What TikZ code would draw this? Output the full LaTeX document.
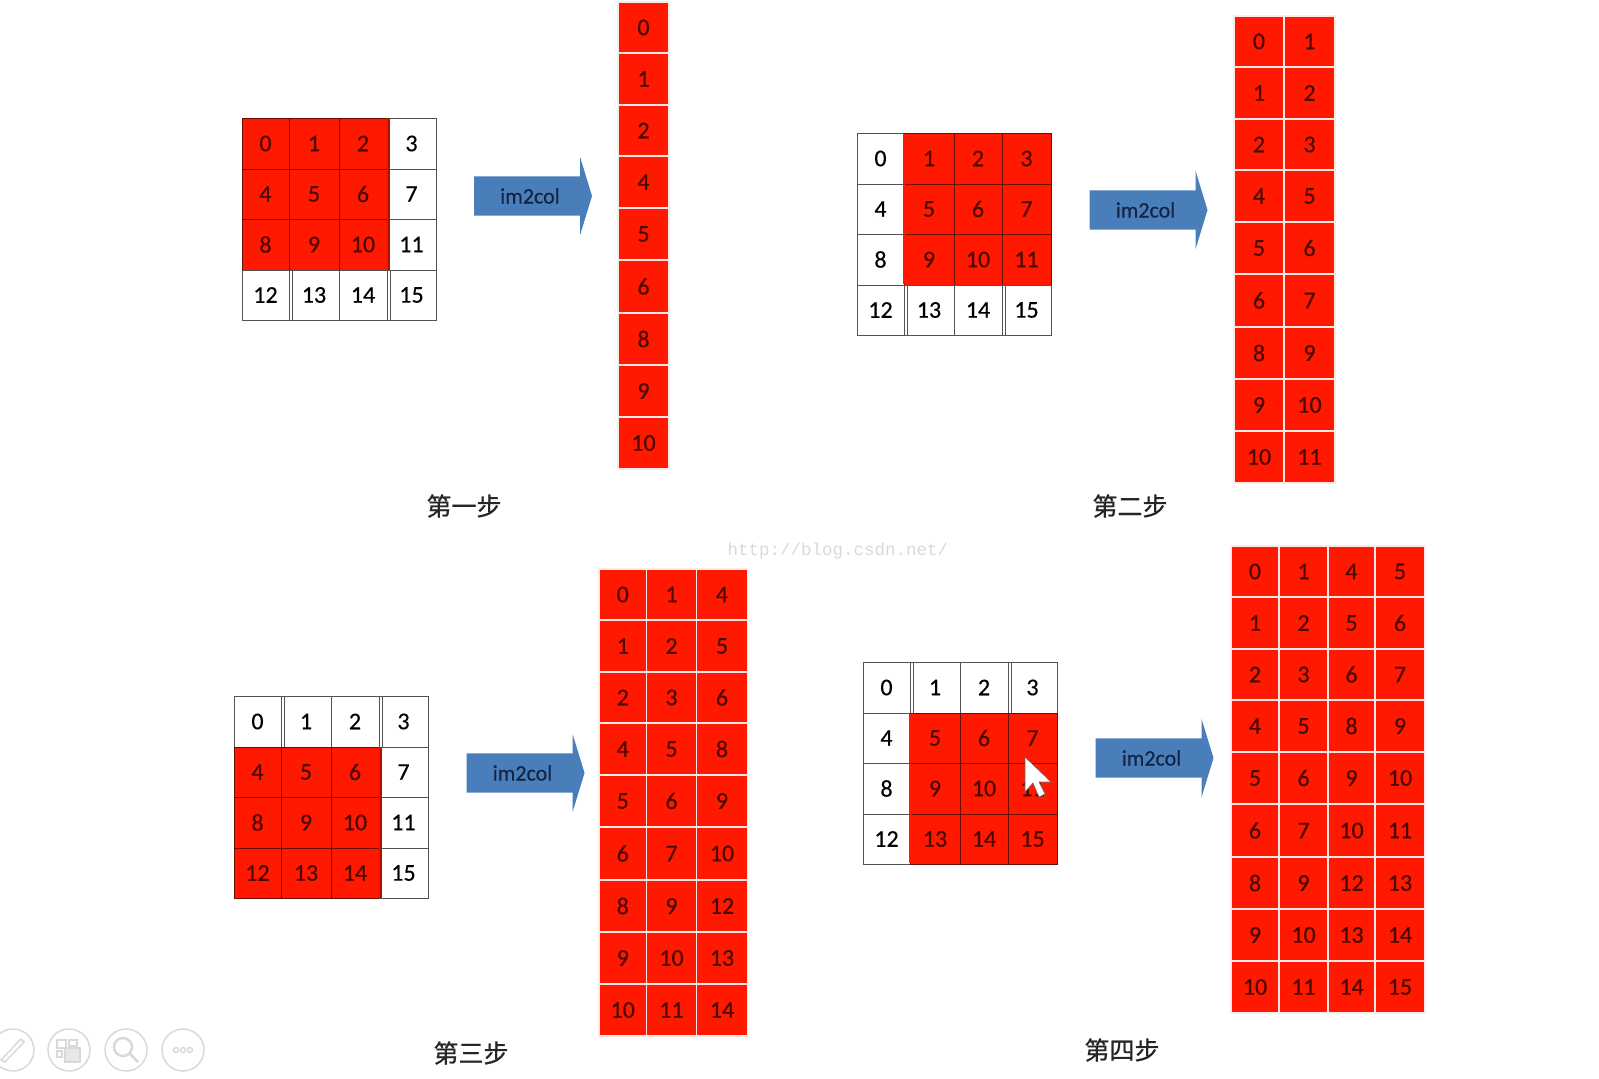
\documentclass[tikz,border=0pt]{standalone}
\usepackage{fontspec}
\setmainfont[FakeBold=0.4]{Carlito}
\newfontfamily\cjk[FakeBold=0.8]{Noto Sans CJK SC}
\newfontfamily\wmfont{Liberation Mono}
\usepackage{xcolor}
\usetikzlibrary{shapes.arrows}
\definecolor{cellred}{HTML}{FF1900}
\definecolor{celldark}{HTML}{6E0D00}
\definecolor{celltext}{HTML}{4A0800}
\definecolor{arrowblue}{HTML}{4A7EBB}
\definecolor{arrowtext}{HTML}{14233F}
\definecolor{icongray}{HTML}{D9D9D9}
\tikzset{
  whitecell/.style={draw=black!68,line width=1pt,inner sep=0pt,outer sep=0pt,text=black,font=\fontsize{24}{24}\selectfont},
  redcell/.style={draw=celldark,line width=1pt,inner sep=0pt,outer sep=0pt,text=celltext,font=\fontsize{24}{24}\selectfont},
  colcell/.style={draw=white!90!cellred,fill=cellred,line width=1.5pt,inner sep=0pt,outer sep=0pt,text=celltext,font=\fontsize{24}{24}\selectfont},
  imarrow/.style={single arrow,fill=arrowblue,inner sep=0pt,outer sep=0pt,minimum height=118pt,text height=27pt,text depth=12pt,
    single arrow head extend=19.5pt,single arrow tip angle=146,text=arrowtext,font=\fontsize{22}{22}\selectfont},
  steplabel/.style={inner sep=0pt,text=black!85,font=\cjk\fontsize{25}{25}\selectfont},
  icon/.style={draw=icongray,line width=1.5pt}
}
\newcommand{\imgrid}[5]{
  \fill[cellred] (#2+47*#4,#3+51*#5) rectangle (#2+147+47*#4,#3+152+50*#5);
  \foreach \c/\cl/\cw in {0/0/47,1/47/50,2/97/48,3/145/49}{
    \foreach \r/\rt/\rh in {0/0/51,1/51/50,2/101/51,3/152/50}{
      \pgfmathtruncatemacro{\val}{4*\r+\c}
      \pgfmathtruncatemacro{\isred}{(\c>=#4)*(\c<#4+3)*(\r>=#5)*(\r<#5+3)}
      \ifnum\isred=1 \def\sty{redcell}\else\def\sty{whitecell}\fi
      \node[\sty,minimum width=\cw pt,minimum height=\rh pt] (#1-\val) at (#2+\cl+\cw/2,#3+\rt+\rh/2) {\val};
    }
  }
  \foreach \gx in {50,148}
    \draw[black!68,line width=1pt] (#2+\gx,#3+152-152*#5) -- (#2+\gx,#3+202-151*#5);
  \ifnum#4=0
    \fill[celldark!55!cellred] (#2+145.5,#3+51*#5) rectangle (#2+148,#3+152+50*#5);
  \else
    \fill[cellred] (#2+46.4,#3+51*#5+0.6) rectangle (#2+47.8,#3+152+50*#5-0.6);
  \fi
}
\newcommand{\imcol}[3]{
  \foreach \c/\cl/\cw/\off in {#3}{
    \foreach \r/\rt/\rh/\lab in {0/0/51/0,1/51/52/1,2/103/51/2,3/154/52/4,4/206/52/5,5/258/53/6,6/311/52/8,7/363/52/9,8/415/52/10}{
      \pgfmathtruncatemacro{\val}{\lab+\off}
      \node[colcell,minimum width=\cw pt,minimum height=\rh pt] (#1-\r-\c) at (\cl+\cw/2,#2+\rt+\rh/2) {\val};
    }
  }
}
\begin{document}
\begin{tikzpicture}[x=1pt,y=-1pt]
\useasboundingbox (0,0) rectangle (1599,1079);
\imgrid{gridA}{242}{118}{0}{0}
\imgrid{gridB}{857}{133}{1}{0}
\imgrid{gridC}{234}{696}{0}{1}
\imgrid{gridD}{863}{662}{1}{1}
\imcol{colA}{2}{0/618/51/0}
\imcol{colB}{16}{0/1234/50/0,1/1284/51/1}
\imcol{colC}{569}{0/599/47.5/0,1/646.5/50/1,2/696.5/51/4}
\imcol{colD}{546}{0/1231/48/0,1/1279/49/1,2/1328/47/4,3/1375/50/5}
\node[imarrow] (arrA) at (530,196) {im2col};
\node[imarrow] (arrB) at (1145.5,210) {im2col};
\node[imarrow] (arrC) at (522.5,773) {im2col};
\node[imarrow] (arrD) at (1151.5,758) {im2col};
\node[steplabel] (stepA) at (464,506) {第一步};
\node[steplabel] (stepB) at (1130,506) {第二步};
\node[steplabel] (stepC) at (471,1053) {第三步};
\node[steplabel] (stepD) at (1122,1050) {第四步};
\node[inner sep=0pt,text=black!15,font=\wmfont\fontsize{17.5}{18}\selectfont] (mark) at (838,551) {http://blog.csdn.net/};
\fill[white,draw=black!60,line width=0.6pt] (1025,757) -- (1025,792) -- (1033,783) -- (1039,797) -- (1045,794) -- (1039,782) -- (1051,782) -- cycle;
\draw[icon] (13,1050) circle (21);
\draw[icon] (69,1050) circle (21);
\draw[icon] (126,1050) circle (21);
\draw[icon] (183,1050) circle (21);
\draw[icon] (1,1060) -- (21,1039) -- (24,1042) -- (5,1062) -- cycle;
\draw[icon] (57,1040) rectangle (66,1048);
\draw[icon] (69,1040) rectangle (77,1046);
\draw[icon] (57,1051) rectangle (62,1057);
\draw[icon,fill=icongray!60] (65,1048) rectangle (80,1062);
\draw[icon,line width=2.5pt] (123,1047) circle (9);
\draw[icon,line width=2.5pt] (130,1054) -- (138,1062);
\draw[icon] (176,1050) circle (2.5);
\draw[icon] (183,1050) circle (2.5);
\draw[icon] (190,1050) circle (2.5);
\end{tikzpicture}
\end{document}
